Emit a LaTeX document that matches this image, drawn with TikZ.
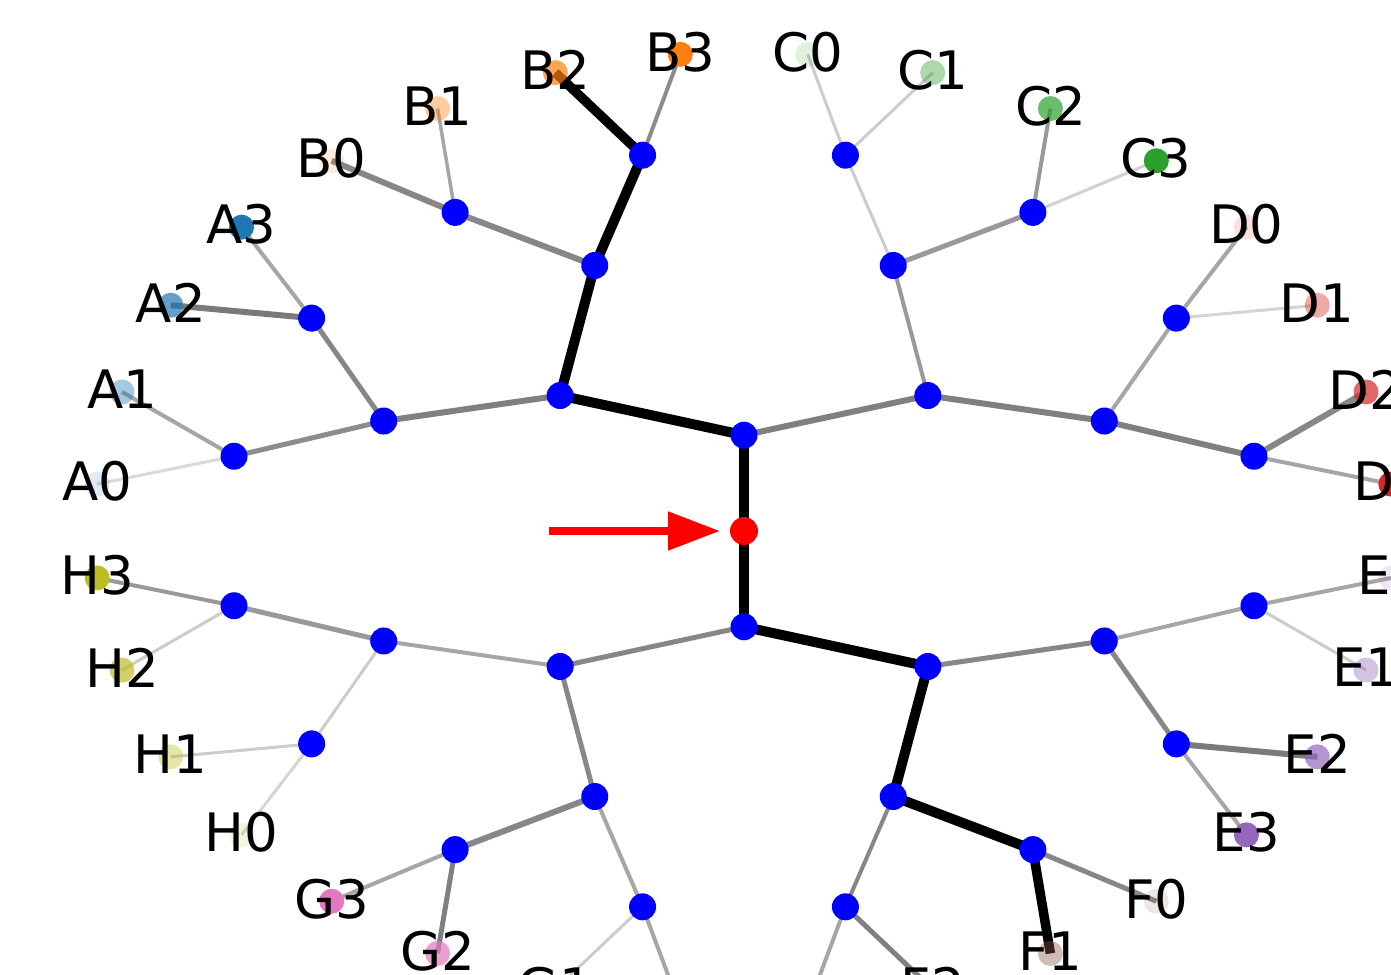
\documentclass[tikz,border=0pt]{standalone}
\usepackage{fontspec}
\setmainfont{DejaVu Sans}
\usepackage{tikz}
\usetikzlibrary{arrows.meta}
\usepackage{xcolor}
\definecolor{tabblue}{HTML}{1F77B4}
\definecolor{taborange}{HTML}{FF7F0E}
\definecolor{tabgreen}{HTML}{2CA02C}
\definecolor{tabred}{HTML}{D62728}
\definecolor{tabpurple}{HTML}{9467BD}
\definecolor{tabbrown}{HTML}{8C564B}
\definecolor{tabpink}{HTML}{E377C2}
\definecolor{tabolive}{HTML}{BCBD22}
\pgfdeclarelayer{bg}
\pgfsetlayers{bg,main}

\begin{document}
\begin{tikzpicture}[x=0.5pt,y=0.5pt,
		inner/.style={circle,fill=blue,inner sep=0pt,minimum size=13.5pt},
		leaf/.style={circle,inner sep=0pt,minimum size=12.5pt},
		lbl/.style={font=\fontsize{26.5}{30}\selectfont,inner sep=0pt,yshift=1.25pt}]
		\def\rx{650}
		\def\ry{479}
		\useasboundingbox (-744,-443) rectangle (647,531);
		\clip (-744,-443) rectangle (647,531);
		\node[inner,fill=red,minimum size=14pt] (root) at (0,0) {}; % centro
		% nodos internos
		\foreach \d in {1,...,4}{
			\pgfmathtruncatemacro\m{2^\d-1}
			\pgfmathtruncatemacro\s{2^(5-\d)}
			\foreach \i in {0,...,\m}{
				\pgfmathsetmacro\t{174.375-11.25*(\i*\s+(\s-1)/2)}
				\node[inner] (n\d-\i) at ({\rx*0.2*\d*cos(\t)},{\ry*0.2*\d*sin(\t)}) {};
			}
		}
		% hojas
		\foreach \g/\c [count=\p from 0] in {A/tabblue,B/taborange,C/tabgreen,D/tabred,E/tabpurple,F/tabbrown,G/tabpink,H/tabolive}
		\foreach \j/\o in {0/0.15,1/0.4,2/0.7,3/1}{
			\pgfmathsetmacro\t{174.375-11.25*(4*\p+\j)}
			\node[leaf,fill=\c,fill opacity=\o] (\g\j) at ({\rx*cos(\t)},{\ry*sin(\t)}) {};
			\node[lbl] (l\g\j) at (\g\j) {\g\j};
		}
		% aristas
		\begin{pgfonlayer}{bg}
		\foreach \a/\b/\w/\k in {
			root/n1-0/5/100, n1-0/n2-0/5/100, n2-0/n3-1/5/100, n3-1/n4-3/5/100, n4-3/B2/4.75/100,
			root/n1-1/5/100, n1-1/n2-2/5/100, n2-2/n3-5/5/100, n3-5/n4-10/5/100, n4-10/F1/4.75/100,
			n1-0/n2-1/3/50, n2-0/n3-0/3/50, n3-0/n4-0/2.5/45, n4-0/A0/1.5/15, n4-0/A1/2/35,
			n3-0/n4-1/2.5/47, n4-1/A2/3/52, n4-1/A3/2/35, n3-1/n4-2/3/47, n4-2/B0/3/47,
			n4-2/B1/1.75/35, n4-3/B3/2/45, n2-1/n3-2/2/40, n3-2/n4-4/1.5/20, n4-4/C0/1.5/20,
			n4-4/C1/1.5/20, n3-2/n4-5/2.5/40, n4-5/C2/2/40, n4-5/C3/1.5/18, n2-1/n3-3/3/50,
			n3-3/n4-6/2/35, n4-6/D0/2/35, n4-6/D1/1.5/17, n3-3/n4-7/3/50, n4-7/D2/3/47,
			n4-7/D3/2/35,
			n1-1/n2-3/2.5/47, n2-3/n3-7/2/35, n3-7/n4-15/2.5/40, n4-15/H3/2/40, n4-15/H2/1.5/20,
			n3-7/n4-14/1.5/20, n4-14/H1/1.5/20, n4-14/H0/1.5/17, n2-3/n3-6/2.5/47, n3-6/n4-13/3/47,
			n4-13/G3/2/35, n4-13/G2/2.5/50, n3-6/n4-12/2/35, n4-12/G1/1.5/20, n4-12/G0/2/35,
			n2-2/n3-4/2.5/47, n3-4/n4-8/2/35, n4-8/E0/2/35, n4-8/E1/1.5/20, n3-4/n4-9/2.5/47,
			n4-9/E2/3/52, n4-9/E3/2/35, n3-5/n4-11/2/47, n4-11/F2/2.5/50, n4-11/F3/2/35,
			n4-10/F0/2.5/47}
		\draw[line width=\w pt,black!\k] (\a.center) -- (\b.center);
		\end{pgfonlayer}
		% flecha
		\coordinate (tail) at (-195,0);
		\draw[red,line width=4pt,-{Triangle[length=26pt,width=18.5pt]},shorten >=4.75pt] (tail) -- (root);
\end{tikzpicture}
\end{document}
